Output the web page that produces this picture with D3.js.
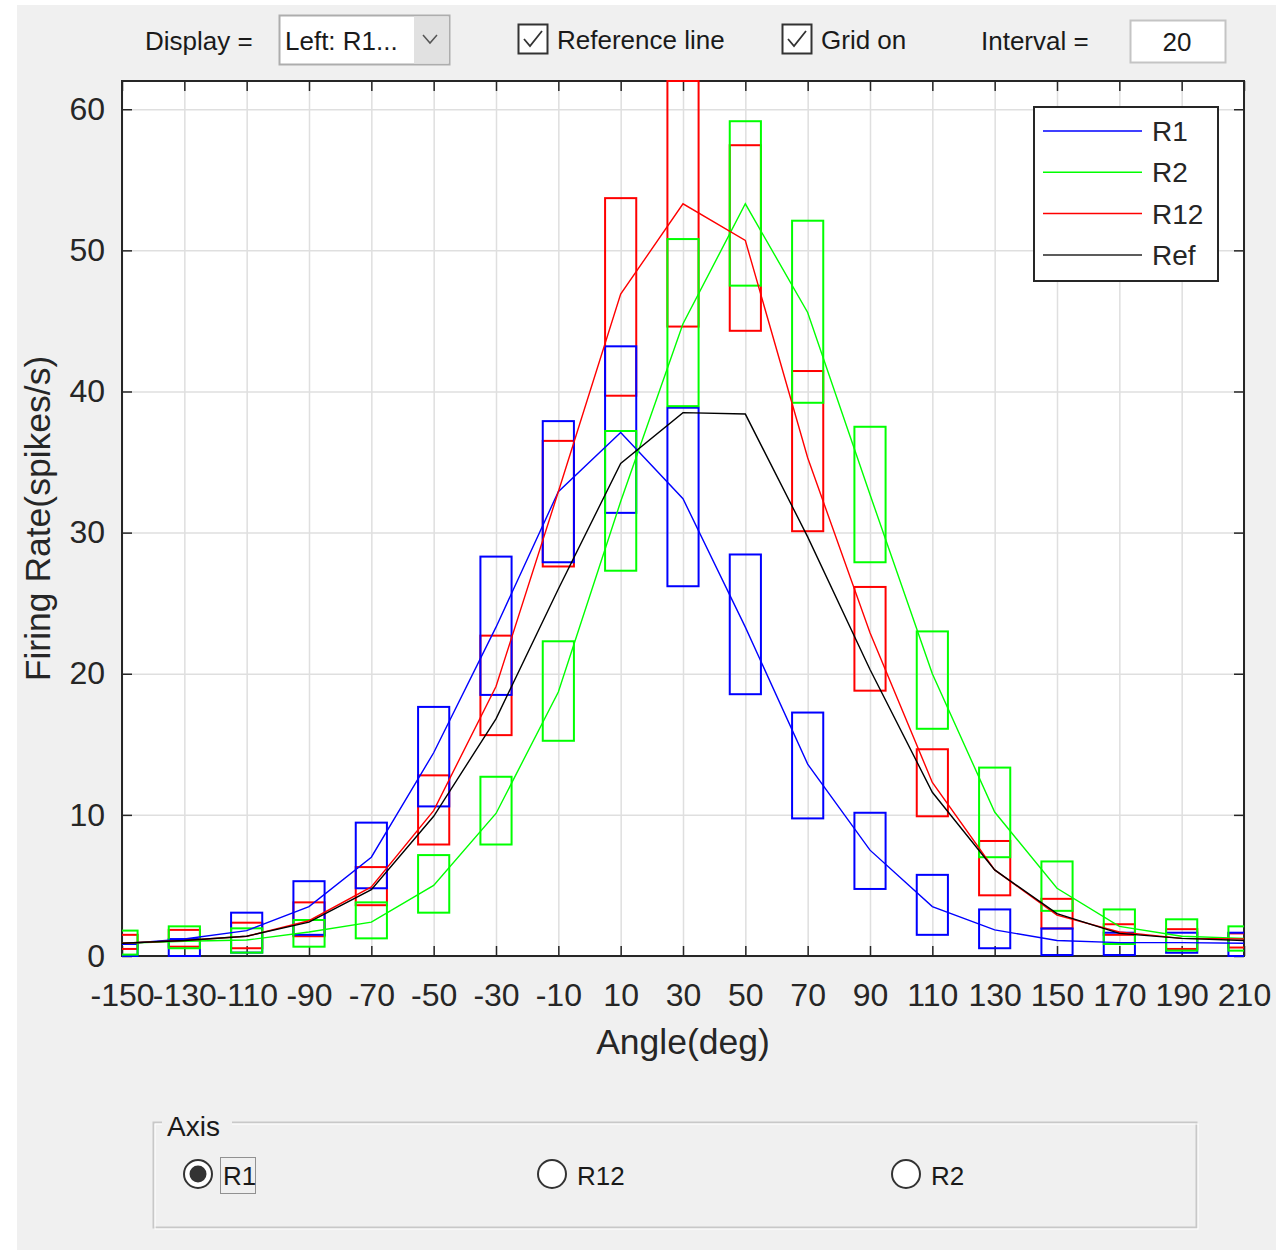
<!DOCTYPE html>
<html>
<head>
<meta charset="utf-8">
<script src="https://cdn.jsdelivr.net/npm/d3@7/dist/d3.min.js"></script>
<style>
  body { margin: 0; background: #fff; }
  text { font-family: "Liberation Sans", Arial, sans-serif; }
  .ui { fill: #1a1a1a; font-size: 26px; }
</style>
</head>
<body>
<div id="fig"></div>
<script>
// angles (deg), one box + one point per angle
var angles = [-150, -130, -110, -90, -70, -50, -30, -10, 10, 30, 50, 70, 90, 110, 130, 150, 170, 190, 210];
var yTicks = [0, 10, 20, 30, 40, 50, 60];

// tuning curves
var r1Line  = [0.85, 1.2, 1.8, 3.5, 7.0, 14.4, 23.3, 32.9, 37.1, 32.4, 23.3, 13.6, 7.5, 3.5, 1.85, 1.1, 0.95, 0.95, 0.9];
var r2Line  = [0.9, 1.05, 1.13, 1.7, 2.4, 5.0, 10.1, 18.7, 32.2, 44.8, 53.3, 45.6, 32.7, 20.0, 10.2, 4.8, 2.1, 1.4, 1.25];
var r12Line = [0.9, 1.1, 1.4, 2.5, 4.9, 10.3, 19.1, 32.9, 46.9, 53.3, 50.7, 35.3, 22.9, 12.3, 6.1, 2.9, 1.7, 1.25, 1.2];
var refLine = [0.9, 1.1, 1.4, 2.4, 4.7, 9.9, 16.8, 26.0, 34.9, 38.5, 38.4, 29.7, 20.3, 11.6, 6.1, 3.0, 1.6, 1.25, 1.1];

// boxes (low / high)
var r1Low   = [0, 0, 0.24, 1.5, 4.8, 10.6, 18.5, 27.9, 31.4, 26.2, 18.55, 9.75, 4.75, 1.5, 0.55, 0.07, 0.07, 0.23, 0];
var r1High  = [0.85, 1.2, 3.07, 5.3, 9.45, 17.65, 28.3, 37.9, 43.2, 38.85, 28.45, 17.25, 10.15, 5.75, 3.3, 1.95, 1.65, 1.65, 1.65];
var r2Low   = [0.1, 0.55, 0.24, 0.66, 1.25, 3.07, 7.9, 15.25, 27.3, 38.96, 47.5, 39.2, 27.9, 16.1, 7.0, 3.2, 0.85, 0.38, 0.38];
var r2High  = [1.8, 2.1, 1.96, 2.55, 3.8, 7.15, 12.7, 22.3, 37.2, 50.8, 59.15, 52.1, 37.5, 23.0, 13.35, 6.7, 3.3, 2.6, 2.1];
var r12Low  = [0.5, 0.66, 0.55, 1.4, 3.6, 7.9, 15.65, 27.6, 39.7, 44.6, 44.3, 30.1, 18.8, 9.9, 4.3, 1.95, 1.5, 0.5, 0.6];
var r12High = [1.5, 1.85, 2.36, 3.8, 6.3, 12.8, 22.7, 36.5, 53.7, 62, 57.45, 41.45, 26.15, 14.65, 8.15, 4.05, 2.25, 1.9, 1.6];

var legendNames = ["R1", "R2", "R12", "Ref"];
var legendColors = ["#0000ff", "#00ff00", "#ff0000", "#262626"];

var W = 1276, H = 1253;
var margin = {top: 81, right: 32, bottom: 297, left: 122},
    width = W - margin.left - margin.right,
    height = H - margin.top - margin.bottom;

var svg = d3.select("#fig").append("svg")
    .attr("width", W)
    .attr("height", H);

// figure background
svg.append("rect").attr("width", W).attr("height", H).attr("fill", "#fff");
svg.append("rect").attr("x", 17).attr("y", 5).attr("width", W - 17).attr("height", 1245).attr("fill", "#f0f0f0");

var x = d3.scaleLinear().domain([-150, 210]).range([0, width]),
    y = d3.scaleLinear().domain([0, 62]).range([height, 0]);

var g = svg.append("g")
    .attr("transform", "translate(" + margin.left + "," + margin.top + ")");

g.append("rect").attr("width", width).attr("height", height).attr("fill", "#fff");

// grid
g.append("g")
    .attr("class", "grid")
    .attr("transform", "translate(0," + height + ")")
    .call(d3.axisBottom(x).tickValues(angles).tickSize(-height).tickFormat(""));
g.append("g")
    .attr("class", "grid")
    .call(d3.axisLeft(y).tickValues(yTicks).tickSize(-width).tickFormat(""));
g.selectAll(".grid line").attr("stroke", "#dfdfdf").attr("stroke-width", 1.5);
g.selectAll(".grid .domain").remove();

// axes (ticks inside, box on) - drawn below the data like matlab's default layer
var fmt = function (d) { return String(d); };
g.append("g")
    .attr("class", "axis")
    .attr("transform", "translate(0," + height + ")")
    .call(d3.axisBottom(x).tickValues(angles).tickSizeInner(-10).tickSizeOuter(0).tickPadding(27).tickFormat(fmt));
g.append("g")
    .attr("class", "axis")
    .call(d3.axisTop(x).tickValues(angles).tickSizeInner(-10).tickSizeOuter(0).tickFormat(""));
g.append("g")
    .attr("class", "axis")
    .call(d3.axisLeft(y).tickValues(yTicks).tickSizeInner(-10).tickSizeOuter(0).tickPadding(17).tickFormat(fmt));
g.append("g")
    .attr("class", "axis")
    .attr("transform", "translate(" + width + ",0)")
    .call(d3.axisRight(y).tickValues(yTicks).tickSizeInner(-10).tickSizeOuter(0).tickFormat(""));
g.selectAll(".axis .domain").remove();
g.selectAll(".axis line").attr("stroke", "#262626").attr("stroke-width", 1.5);
g.selectAll(".axis text")
    .attr("fill", "#262626")
    .style("font-size", "32px")
    .style("font-family", "'Liberation Sans', Arial, sans-serif");

g.append("rect")
    .attr("width", width)
    .attr("height", height)
    .attr("fill", "none")
    .attr("stroke", "#262626")
    .attr("stroke-width", 2);

svg.append("defs").append("clipPath")
    .attr("id", "clip")
    .append("rect")
    .attr("y", -1.5)
    .attr("width", width)
    .attr("height", height + 3);

var plot = g.append("g").attr("clip-path", "url(#clip)");

function boxes(lo, hi, color) {
    var rows = angles.map(function (a, i) { return {a: a, lo: lo[i], hi: hi[i]}; });
    plot.append("g").selectAll("rect")
        .data(rows)
        .enter().append("rect")
        .attr("x", function (d) { return x(d.a - 5); })
        .attr("width", function (d) { return x(d.a + 5) - x(d.a - 5); })
        .attr("y", function (d) { return y(d.hi); })
        .attr("height", function (d) { return y(d.lo) - y(d.hi); })
        .attr("fill", "none")
        .attr("stroke", color)
        .attr("stroke-width", 2);
}

boxes(r12Low, r12High, "#ff0000");
boxes(r1Low, r1High, "#0000ff");
boxes(r2Low, r2High, "#00ff00");

var line = d3.line()
    .x(function (d, i) { return x(angles[i]); })
    .y(function (d) { return y(d); });

[[r1Line, "#0000ff"], [r2Line, "#00ff00"], [r12Line, "#ff0000"], [refLine, "#000"]].forEach(function (s) {
    plot.append("path")
        .datum(s[0])
        .attr("fill", "none")
        .attr("stroke", s[1])
        .attr("stroke-width", 1.4)
        .attr("d", line);
});

g.append("text")
    .attr("x", width / 2)
    .attr("y", height + 98)
    .attr("text-anchor", "middle")
    .attr("fill", "#262626")
    .style("font-size", "35.5px")
    .text("Angle(deg)");

g.append("text")
    .attr("transform", "translate(" + (50 - margin.left) + "," + (height / 2) + ") rotate(-90)")
    .attr("text-anchor", "middle")
    .attr("fill", "#262626")
    .style("font-size", "35.5px")
    .text("Firing Rate(spikes/s)");

// legend
var leg = svg.append("g").attr("transform", "translate(1034,107)");
leg.append("rect")
    .attr("width", 184)
    .attr("height", 174)
    .attr("fill", "#fff")
    .attr("stroke", "#262626")
    .attr("stroke-width", 2);
var rows = leg.selectAll(".lg")
    .data(legendNames)
    .enter().append("g")
    .attr("transform", function (d, i) { return "translate(0," + (24 + i * 41.3) + ")"; });
rows.append("line")
    .attr("x1", 9).attr("x2", 108)
    .attr("stroke", function (d, i) { return legendColors[i]; })
    .attr("stroke-width", 1.5);
rows.append("text")
    .attr("x", 118)
    .attr("y", 10)
    .attr("fill", "#262626")
    .style("font-size", "28px")
    .text(function (d) { return d; });

// top controls
svg.append("text").attr("class", "ui").attr("x", 145).attr("y", 50).text("Display =");
svg.append("rect").attr("x", 279.5).attr("y", 15.5).attr("width", 170).attr("height", 49)
    .attr("fill", "#fff").attr("stroke", "#adadad").attr("stroke-width", 2);
svg.append("rect").attr("x", 414).attr("y", 16.5).attr("width", 35).attr("height", 47).attr("fill", "#e1e1e1");
svg.append("path").attr("d", "M423,35 L430,43 L437,35").attr("fill", "none").attr("stroke", "#555").attr("stroke-width", 1.5);
svg.append("text").attr("class", "ui").attr("x", 285).attr("y", 50).text("Left: R1...");

function checkbox(x0, label) {
    svg.append("rect").attr("x", x0 + 0.5).attr("y", 24.5).attr("width", 29).attr("height", 29)
        .attr("fill", "#fff").attr("stroke", "#333").attr("stroke-width", 2);
    svg.append("path").attr("d", "M" + (x0 + 6) + ",39 L" + (x0 + 12) + ",46 L" + (x0 + 24) + ",31")
        .attr("fill", "none").attr("stroke", "#333").attr("stroke-width", 1.8);
    svg.append("text").attr("class", "ui").attr("x", x0 + 39).attr("y", 49).text(label);
}
checkbox(518, "Reference line");
checkbox(782, "Grid on");

svg.append("text").attr("class", "ui").attr("x", 981).attr("y", 50).text("Interval =");
svg.append("rect").attr("x", 1130.5).attr("y", 20.5).attr("width", 95).attr("height", 42)
    .attr("fill", "#fff").attr("stroke", "#c4c4c4").attr("stroke-width", 2);
svg.append("text").attr("class", "ui").attr("x", 1177).attr("y", 51).attr("text-anchor", "middle").text("20");

// "Axis" button group
var grp = svg.append("g");
grp.append("rect").attr("x", 153.5).attr("y", 1122.5).attr("width", 1043).attr("height", 105)
    .attr("fill", "none").attr("stroke", "#c8c8c8").attr("stroke-width", 2);
grp.append("rect").attr("x", 155).attr("y", 1124).attr("width", 1043).attr("height", 105)
    .attr("fill", "none").attr("stroke", "#fff").attr("stroke-width", 1);
grp.append("rect").attr("x", 162).attr("y", 1108).attr("width", 70).attr("height", 30).attr("fill", "#f0f0f0");
grp.append("text").attr("class", "ui").attr("x", 167).attr("y", 1136).style("font-size", "28px").text("Axis");

function radio(cx, label, on) {
    grp.append("circle").attr("cx", cx).attr("cy", 1174).attr("r", 14)
        .attr("fill", "#fff").attr("stroke", "#333").attr("stroke-width", 2);
    if (on) grp.append("circle").attr("cx", cx).attr("cy", 1174).attr("r", 8.5).attr("fill", "#333");
    grp.append("text").attr("class", "ui").attr("x", cx + 25).attr("y", 1185).text(label);
}
radio(198, "R1", true);
radio(552, "R12", false);
radio(906, "R2", false);
grp.append("rect").attr("x", 220.5).attr("y", 1157.5).attr("width", 35).attr("height", 36)
    .attr("fill", "none").attr("stroke", "#333").attr("stroke-width", 1).attr("stroke-dasharray", "1,1");
</script>
</body>
</html>
